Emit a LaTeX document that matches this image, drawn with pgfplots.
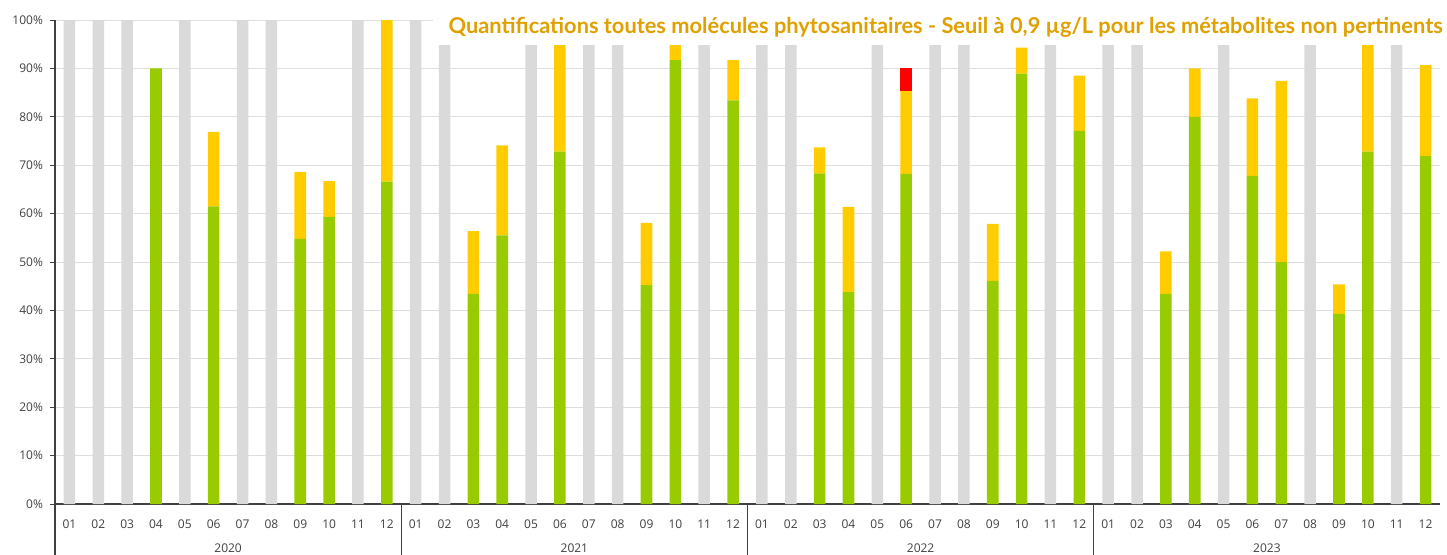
\documentclass[border=0pt]{standalone}
\usepackage{pgfplots}
\pgfplotsset{compat=1.18}
\usepackage{pgfplotstable}
\usepackage{fontspec}
\setmainfont{Open Sans}
\newfontfamily\titlefont{Lato}
\definecolor{cgray}{RGB}{218,218,218}
\definecolor{cgreen}{RGB}{153,204,0}
\definecolor{cyellow}{RGB}{255,204,0}
\definecolor{cred}{RGB}{255,0,0}
\definecolor{ctitle}{RGB}{224,160,0}
\definecolor{ctext}{RGB}{64,64,64}
\definecolor{cgrid}{RGB}{222,222,222}

\pgfplotstableread{
x gray green yellow red
0 100 0 0 0
1 100 0 0 0
2 100 0 0 0
3 0 90 0 0
4 100 0 0 0
5 0 61.5 15.4 0
6 100 0 0 0
7 100 0 0 0
8 0 54.8 13.8 0
9 0 59.3 7.4 0
10 100 0 0 0
11 0 66.6 33.4 0
12 100 0 0 0
13 100 0 0 0
14 0 43.4 13.0 0
15 0 55.5 18.6 0
16 100 0 0 0
17 0 72.8 27.2 0
18 100 0 0 0
19 100 0 0 0
20 0 45.2 12.9 0
21 0 91.7 8.3 0
22 100 0 0 0
23 0 83.4 8.3 0
24 100 0 0 0
25 100 0 0 0
26 0 68.3 5.4 0
27 0 43.8 17.6 0
28 100 0 0 0
29 0 68.2 17.1 4.8
30 100 0 0 0
31 100 0 0 0
32 0 46.1 11.8 0
33 0 88.9 5.4 0
34 100 0 0 0
35 0 77.1 11.4 0
36 100 0 0 0
37 100 0 0 0
38 0 43.4 8.8 0
39 0 80 10 0
40 100 0 0 0
41 0 67.8 16.0 0
42 0 50 37.4 0
43 100 0 0 0
44 0 39.3 6.1 0
45 0 72.8 27.2 0
46 100 0 0 0
47 0 71.9 18.8 0
}\datatable

\begin{document}
\begin{tikzpicture}
\useasboundingbox (-27.5pt,-25pt) rectangle (696pt,252pt);
\begin{axis}[
  at={(0,0)}, anchor=south west,
  scale only axis, width=692.5pt, height=242pt,
  xmin=-0.5, xmax=47.5, ymin=0, ymax=100,
  ybar stacked, bar width=0.4,
  axis x line*=bottom, axis y line*=left,
  axis line style={ctext, line width=0.7pt},
  ytick={0,10,...,100},
  yticklabel={\pgfmathprintnumber{\tick}\%},
  ymajorgrids, grid style={cgrid, line width=0.5pt},
  xtick={0,...,47},
  xticklabels={01,02,03,04,05,06,07,08,09,10,11,12,01,02,03,04,05,06,07,08,09,10,11,12,01,02,03,04,05,06,07,08,09,10,11,12,01,02,03,04,05,06,07,08,09,10,11,12},
  xtick style={draw=none},
  ytick style={ctext, line width=0.5pt},
  tick align=outside, major tick length=2.5pt,
  tick label style={font=\fontsize{6}{7}\selectfont, text=ctext},
  /pgf/number format/assume math mode=true,
  xticklabel style={yshift=-2pt},
  clip=false,
]
\addplot[fill=cgray, draw=none] table[x=x, y=gray] {\datatable};
\addplot[fill=cgreen, draw=none] table[x=x, y=green] {\datatable};
\addplot[fill=cyellow, draw=none] table[x=x, y=yellow] {\datatable};
\addplot[fill=cred, draw=none] table[x=x, y=red] {\datatable};
\foreach \s in {-0.5,11.5,23.5,35.5} {
  \edef\tmp{\noexpand\draw[ctext, line width=0.7pt] (axis cs:\s,0) -- ([yshift=-26pt]axis cs:\s,0);}
  \tmp
}
\foreach \c/\yr in {5.5/2020,17.5/2021,29.5/2022,41.5/2023} {
  \edef\tmp{\noexpand\node[font=\noexpand\fontsize{6}{7}\noexpand\selectfont, text=ctext] at ([yshift=-22pt]axis cs:\c,0) {\yr};}
  \tmp
}
\end{axis}
\fill[white] (189pt,229.5pt) rectangle (700pt,255pt);
\node[anchor=east, text=ctitle, inner sep=0pt] at (694pt,238.5pt)
  {\resizebox{497pt}{!}{\titlefont\bfseries Quantifications toutes molécules phytosanitaires - Seuil à 0,9 µg/L pour les métabolites non pertinents}};
\end{tikzpicture}
\end{document}
